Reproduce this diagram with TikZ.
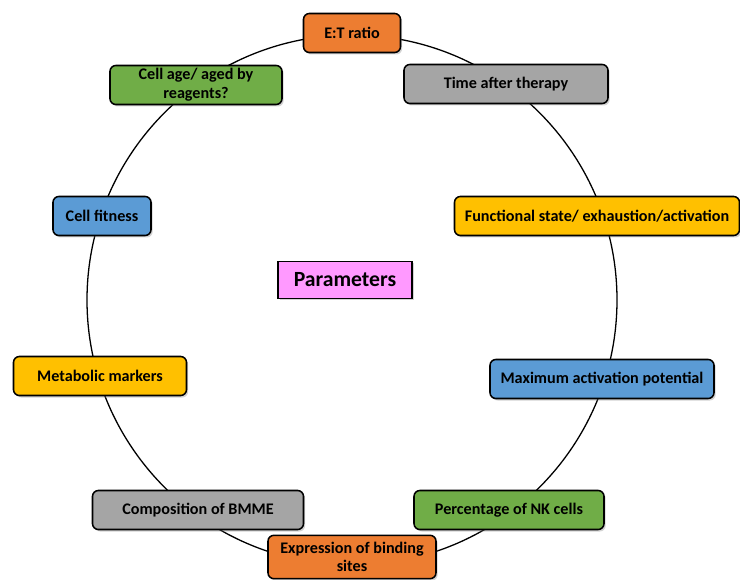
\documentclass[tikz,border=0pt]{standalone}
\usepackage{fontspec}
\setmainfont{Carlito}
\usepackage{xcolor}
\usepackage{tikz}
\usetikzlibrary{shadows}
\definecolor{parorange}{RGB}{237, 125, 49}
\definecolor{pargrey}{RGB}{165, 165, 165}
\definecolor{pargold}{RGB}{255, 192, 0}
\definecolor{parblue}{RGB}{91, 155, 213}
\definecolor{pargreen}{RGB}{112, 173, 71}
\definecolor{parpink}{RGB}{255, 153, 255}

\begin{document}
\begin{tikzpicture}[
                pb/.style={draw, line width=1.3pt, rounded corners=5pt,
                           minimum height=1.17cm, inner sep=2pt,
                           align=center, font=\fontsize{13.8}{16.5}\selectfont\bfseries,
                           drop shadow={opacity=0.35, shadow xshift=0.05cm,
                                        shadow yshift=-0.06cm}}]
                \useasboundingbox (0,0) rectangle (22.2,17.37);

                % ring behind the boxes
                \draw[line width=1.1pt] (10.56,8.37) circle (7.95);

                \node[pb, fill=parorange, minimum width=2.91cm] (etratio)  at (10.56,16.38) {E:T ratio};
                \node[pb, fill=pargrey,   minimum width=6.12cm] (time)     at (15.18,14.85) {Time after therapy};
                \node[pb, fill=pargold,   minimum width=8.55cm] (funcstate) at (17.91,10.89) {Functional state/ exhaustion/activation};
                \node[pb, fill=parblue,   minimum width=6.72cm] (maxact)   at (18.06,6.00)  {Maximum activation potential};
                \node[pb, fill=pargreen,  minimum width=5.70cm] (nkpct)    at (15.27,2.07)  {Percentage of NK cells};
                \node[pb, fill=parorange, minimum width=5.04cm, minimum height=1.3cm,
                      inner sep=1pt, font=\fontsize{13.8}{15.5}\selectfont\bfseries]
                      (binding) at (10.56,0.66) {Expression of binding\\sites};
                \node[pb, fill=pargrey,   minimum width=6.33cm] (bmme)     at (5.94,2.07)   {Composition of BMME};
                \node[pb, fill=pargold,   minimum width=5.19cm] (metab)    at (3.00,6.09)   {Metabolic markers};
                \node[pb, fill=parblue,   minimum width=2.94cm] (fitness)  at (3.06,10.89)  {Cell fitness};
                \node[pb, fill=pargreen,  minimum width=5.16cm, inner sep=1pt] (cellage) at (5.88,14.82) {Cell age/ aged by\\reagents?};

                \node[draw, line width=1.3pt, fill=parpink, minimum width=4.02cm, minimum height=1.11cm,
                      font=\fontsize{18.5}{22}\selectfont\bfseries,
                      drop shadow={opacity=0.35, shadow xshift=0.05cm, shadow yshift=-0.06cm}]
                      (params) at (10.35,8.97) {Parameters};
            \end{tikzpicture}
\end{document}
